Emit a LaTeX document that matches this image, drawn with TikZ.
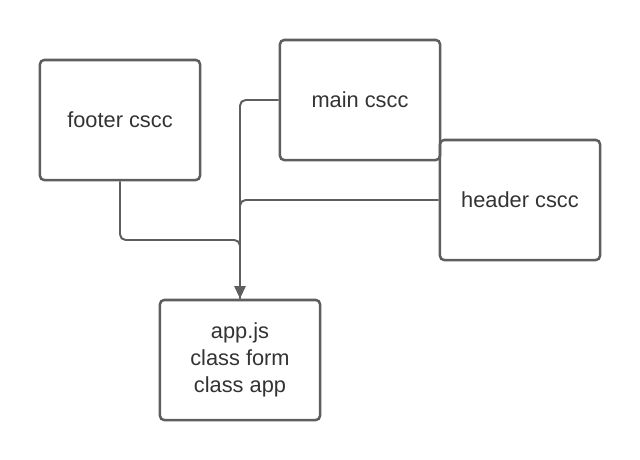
\documentclass[tikz,border=0pt]{standalone}
\usepackage{fontspec}
\setmainfont{Liberation Sans}
\usepackage{xcolor}
\usetikzlibrary{arrows.meta,positioning}
\definecolor{edgegray}{HTML}{5E5E5E}
\definecolor{textgray}{HTML}{333333}

\begin{document}
\begin{tikzpicture}[
  x=0.025cm, y=-0.025cm,
  cssbox/.style={draw=edgegray, line width=1.8pt, rounded corners=3pt,
    minimum width=4cm, minimum height=3cm, text=textgray,
    font=\fontsize{15.5}{19}\selectfont, align=center},
  conn/.style={draw=edgegray, line width=1.4pt, rounded corners=4pt},
  >={Triangle[length=9pt,width=8pt]}
]
\useasboundingbox (0,0) rectangle (640,460);
\node[cssbox] (footer) at (120,120) {footer cscc};
\node[cssbox] (main) at (360,100) {main cscc};
\node[cssbox] (header) at (520,200) {header cscc};
\node[cssbox] (app) at (240,360) {app.js\\class form\\class app};
\coordinate (fjoin) at (240,240);

\draw[conn,->] (main.west) -| (app.north);
\draw[conn] (header.west) -| (app.north);
\draw[conn] (footer.south) |- (fjoin) -- (app.north);
\end{tikzpicture}
\end{document}
